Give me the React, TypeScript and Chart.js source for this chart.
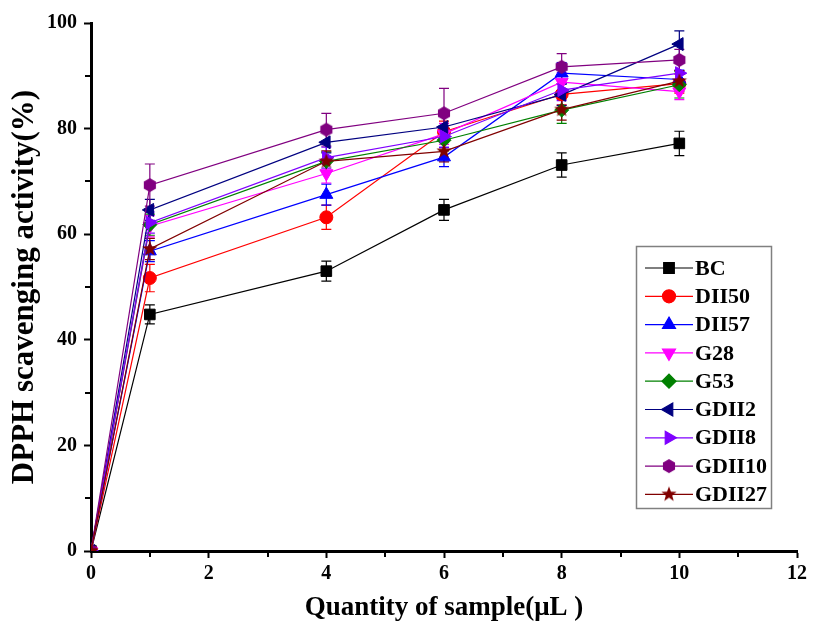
import React, { useEffect, useRef } from 'react';
import { Chart, registerables } from 'chart.js';
import { drawPoint } from 'chart.js/helpers';

Chart.register(...registerables);

const xValues = [0, 1, 4, 6, 8, 10];
const seriesNames = ['BC', 'DII50', 'DII57', 'G28', 'G53', 'GDII2', 'GDII8', 'GDII10', 'GDII27'];
const seriesColors = ['#000000', '#FF0000', '#0000FF', '#FF00FF', '#008000', '#000080', '#7F00FF', '#800080', '#800000'];

const BC = [0, 44.8, 53.0, 64.6, 73.1, 77.2];
const DII50 = [0, 51.7, 63.2, 79.4, 86.5, 88.5];
const DII57 = [0, 56.8, 67.5, 74.6, 90.5, 89.3];
const G28 = [0, 61.5, 71.5, 79.0, 88.8, 87.0];
const G53 = [0, 61.8, 73.8, 77.8, 83.5, 88.3];
const GDII2 = [0, 64.6, 77.4, 80.3, 86.4, 96.0];
const GDII8 = [0, 62.2, 74.5, 78.5, 87.3, 90.5];
const GDII10 = [0, 69.3, 79.8, 82.9, 91.7, 93.0];
const GDII27 = [0, 57.2, 73.8, 75.7, 83.6, 89.0];

const errBC = [0, 1.8, 1.9, 2.0, 2.3, 2.3];
const errDII50 = [0, 2.6, 2.3, 2.0, 2.0, 1.8];
const errDII57 = [0, 2.0, 2.0, 1.8, 2.0, 1.8];
const errG28 = [0, 2.0, 1.8, 2.0, 1.8, 1.5];
const errG53 = [0, 2.0, 1.8, 2.0, 2.5, 2.5];
const errGDII2 = [0, 2.0, 2.0, 2.0, 2.0, 2.5];
const errGDII8 = [0, 2.0, 2.0, 2.0, 2.0, 2.0];
const errGDII10 = [0, 4.0, 3.1, 4.7, 2.5, 2.0];
const errGDII27 = [0, 2.0, 2.0, 2.0, 2.0, 2.0];

const seriesValues = [BC, DII50, DII57, G28, G53, GDII2, GDII8, GDII10, GDII27];
const seriesErrors = [errBC, errDII50, errDII57, errG28, errG53, errGDII2, errGDII8, errGDII10, errGDII27];

const xTitle = 'Quantity of sample(\u03BCL )';
const yTitle = 'DPPH scavenging activity(%)';

const FONT = '"Liberation Serif", "Times New Roman", serif';

function makeHexagon(color: string, r: number) {
  const s = Math.ceil(2 * r + 2);
  const c = document.createElement('canvas');
  c.width = s; c.height = s;
  const ctx = c.getContext('2d')!;
  ctx.fillStyle = color;
  ctx.beginPath();
  for (let k = 0; k < 6; k++) {
    const a = -Math.PI / 2 + k * Math.PI / 3;
    const px = s / 2 + r * Math.cos(a);
    const py = s / 2 + r * Math.sin(a);
    if (k === 0) ctx.moveTo(px, py); else ctx.lineTo(px, py);
  }
  ctx.closePath();
  ctx.fill();
  return c;
}

function makeStar(color: string, r: number) {
  const s = Math.ceil(2 * r + 2);
  const c = document.createElement('canvas');
  c.width = s; c.height = s;
  const ctx = c.getContext('2d')!;
  ctx.fillStyle = color;
  ctx.beginPath();
  for (let k = 0; k < 10; k++) {
    const a = -Math.PI / 2 + k * Math.PI / 5;
    const rr = k % 2 === 0 ? r : r * 0.42;
    const px = s / 2 + rr * Math.cos(a);
    const py = s / 2 + rr * Math.sin(a);
    if (k === 0) ctx.moveTo(px, py); else ctx.lineTo(px, py);
  }
  ctx.closePath();
  ctx.fill();
  return c;
}

function pointStyleFor(i: number): any {
  switch (i) {
    case 0: return { style: 'rect', radius: 7.5, rotation: 0 };
    case 1: return { style: 'circle', radius: 6.5, rotation: 0 };
    case 2: return { style: 'triangle', radius: 7.5, rotation: 0 };
    case 3: return { style: 'triangle', radius: 7.5, rotation: 180 };
    case 4: return { style: 'rectRot', radius: 7, rotation: 0 };
    case 5: return { style: 'triangle', radius: 7.5, rotation: -90 };
    case 6: return { style: 'triangle', radius: 7.5, rotation: 90 };
    case 7: return { style: makeHexagon(seriesColors[7], 7), radius: 7, rotation: 0 };
    default: return { style: makeStar(seriesColors[8], 8), radius: 8, rotation: 0 };
  }
}

const errorBarPlugin = {
  id: 'errorBars',
  beforeDatasetsDraw(chart: any) {
    const { ctx, scales } = chart;
    const xs = scales.x, ys = scales.y;
    ctx.save();
    ctx.lineWidth = 1.2;
    seriesValues.forEach((vals, i) => {
      ctx.strokeStyle = seriesColors[i];
      vals.forEach((v, j) => {
        const e = seriesErrors[i][j];
        if (!e) return;
        const px = xs.getPixelForValue(xValues[j]);
        const top = ys.getPixelForValue(v + e);
        const bot = ys.getPixelForValue(v - e);
        ctx.beginPath();
        ctx.moveTo(px, top); ctx.lineTo(px, bot);
        ctx.moveTo(px - 5, top); ctx.lineTo(px + 5, top);
        ctx.moveTo(px - 5, bot); ctx.lineTo(px + 5, bot);
        ctx.stroke();
      });
    });
    ctx.restore();
  },
};

const minorTickPlugin = {
  id: 'minorTicks',
  afterDraw(chart: any) {
    const { ctx, scales, chartArea } = chart;
    ctx.save();
    ctx.strokeStyle = '#000';
    ctx.lineWidth = 2;
    for (let v = 1; v < 12; v += 2) {
      const px = Math.round(scales.x.getPixelForValue(v));
      ctx.beginPath();
      ctx.moveTo(px, chartArea.bottom);
      ctx.lineTo(px, chartArea.bottom + 6);
      ctx.stroke();
    }
    for (let v = 10; v < 100; v += 20) {
      const py = Math.round(scales.y.getPixelForValue(v));
      ctx.beginPath();
      ctx.moveTo(chartArea.left, py);
      ctx.lineTo(chartArea.left - 6, py);
      ctx.stroke();
    }
    ctx.restore();
  },
};

const legendPlugin = {
  id: 'boxLegend',
  afterDraw(chart: any) {
    const { ctx } = chart;
    ctx.save();
    ctx.strokeStyle = '#808080';
    ctx.lineWidth = 1.5;
    ctx.strokeRect(636.5, 246.5, 135, 262);
    ctx.font = `bold 22px ${FONT}`;
    ctx.textBaseline = 'middle';
    ctx.textAlign = 'left';
    seriesNames.forEach((name, i) => {
      const y = 268 + i * 28.3;
      ctx.strokeStyle = seriesColors[i];
      ctx.lineWidth = 1.2;
      ctx.beginPath();
      ctx.moveTo(645, y); ctx.lineTo(693, y);
      ctx.stroke();
      const ps = pointStyleFor(i);
      ctx.fillStyle = seriesColors[i];
      drawPoint(ctx, { pointStyle: ps.style, radius: ps.radius, rotation: ps.rotation, borderWidth: 1 } as any, 669, y);
      ctx.fillStyle = '#000';
      ctx.fillText(name, 695, y + 1);
    });
    ctx.restore();
  },
};

export default function App() {
  const ref = useRef<HTMLCanvasElement | null>(null);
  useEffect(() => {
    if (!ref.current) return;
    const datasets = seriesValues.map((vals, i) => {
      const ps = pointStyleFor(i);
      return {
        label: seriesNames[i],
        data: vals.map((v, j) => ({ x: xValues[j], y: v })),
        borderColor: seriesColors[i],
        backgroundColor: seriesColors[i],
        borderWidth: 1.2,
        pointStyle: ps.style,
        pointRadius: ps.radius,
        pointRotation: ps.rotation,
        pointBorderWidth: 1,
        pointBorderColor: seriesColors[i],
        pointBackgroundColor: seriesColors[i],
        tension: 0,
        order: 8 - i,
      };
    });
    const chart = new Chart(ref.current, {
      type: 'line',
      data: { datasets },
      plugins: [errorBarPlugin, minorTickPlugin, legendPlugin],
      options: {
        animation: false,
        responsive: false,
        layout: { padding: { top: 23, right: 20, left: 0, bottom: 0 } },
        plugins: { legend: { display: false }, tooltip: { enabled: false } },
        scales: {
          x: {
            type: 'linear',
            min: 0,
            max: 12,
            afterFit: (s: any) => { s.height = 76; },
            ticks: { stepSize: 2, color: '#000', font: { family: FONT, size: 20, weight: 'bold' }, padding: 4 },
            grid: { drawOnChartArea: false, drawTicks: true, tickLength: 7, color: '#000', tickWidth: 2 },
            border: { display: true, color: '#000', width: 3 },
            title: { display: true, text: xTitle, color: '#000', font: { family: FONT, size: 27, weight: 'bold' }, padding: { top: 0, bottom: 3 } },
          },
          y: {
            type: 'linear',
            min: 0,
            max: 100,
            afterFit: (s: any) => { s.width = 91; },
            ticks: { stepSize: 20, color: '#000', font: { family: FONT, size: 20, weight: 'bold' }, padding: 7 },
            grid: { drawOnChartArea: false, drawTicks: true, tickLength: 7, color: '#000', tickWidth: 2 },
            border: { display: true, color: '#000', width: 3 },
            title: { display: true, text: yTitle, color: '#000', font: { family: FONT, size: 31, weight: 'bold' }, padding: { top: 6, bottom: 0 } },
          },
        },
      },
    } as any);
    return () => chart.destroy();
  }, []);
  return (
    <div style={{ position: 'fixed', left: 0, top: 0, width: 817, height: 627, background: '#fff' }}>
      <canvas ref={ref} width={817} height={627} />
    </div>
  );
}
